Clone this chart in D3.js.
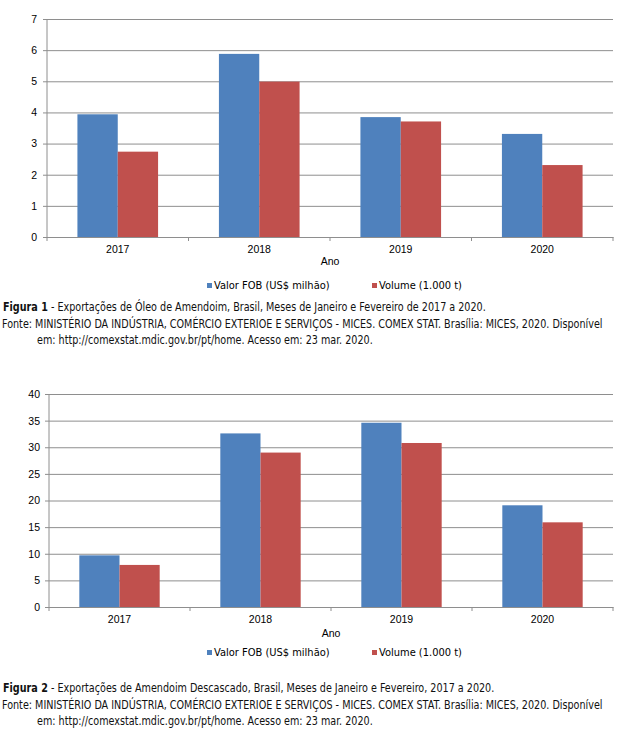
<!DOCTYPE html>
<html>
<head>
<meta charset="utf-8">
<script src="https://cdn.jsdelivr.net/npm/d3@7"></script>
<style>
  body { margin: 0; background: #fff; }
  svg { display: block; }
</style>
</head>
<body>
<svg id="fig" width="631" height="747"></svg>
<script>
// categories and series
var anos = ["2017", "2018", "2019", "2020"];
var series = ["Valor FOB (US$ milhão)", "Volume (1.000 t)"];

// figura 1 - oleo de amendoim
var oleoValor = [3.94, 5.88, 3.85, 3.31];
var oleoVolume = [2.74, 4.99, 3.71, 2.31];
var oleoTicks = [0, 1, 2, 3, 4, 5, 6, 7];

// figura 2 - amendoim descascado
var amendoimValor = [9.7, 32.6, 34.6, 19.1];
var amendoimVolume = [7.9, 29.0, 30.8, 15.9];
var amendoimTicks = [0, 5, 10, 15, 20, 25, 30, 35, 40];

var colors = ["#4f81bd", "#c0504d"];
var fonte = "Fonte: MINISTÉRIO DA INDÚSTRIA, COMÉRCIO EXTERIOE E SERVIÇOS - MICES. COMEX STAT. Brasília: MICES, 2020. Disponível";
var acesso = "em: http://comexstat.mdic.gov.br/pt/home. Acesso em: 23 mar. 2020.";

var svg = d3.select("#fig");
var axisFont = "'Liberation Sans', Arial, sans-serif";
var capFont = "'DejaVu Sans Condensed', 'DejaVu Sans', sans-serif";

function drawChart(c) {
	var g = svg.append("g");
	var x = d3.scaleBand().domain(anos).range([c.left, c.right]);
	var x1 = d3.scaleBand().domain([0, 1])
		.range([x.bandwidth() * 0.215, x.bandwidth() * 0.785]);
	var y = d3.scaleLinear().domain([0, d3.max(c.ticks)]).range([c.bottom, c.top]);

	// gridlines + y labels
	var ya = g.append("g")
		.attr("transform", "translate(" + (c.left - 4) + ",0)")
		.call(d3.axisLeft(y).tickValues(c.ticks).tickFormat(d3.format("d"))
			.tickSizeInner(-(c.right - c.left + 4)).tickSizeOuter(0)
			.tickPadding(c.labelPad));
	ya.select(".domain").remove();
	ya.selectAll("line").attr("stroke", "#8e8e8e");
	ya.selectAll("text").attr("fill", "#000")
		.style("font-family", axisFont).style("font-size", "10.5px");

	// left axis line
	g.append("line")
		.attr("x1", c.left).attr("x2", c.left)
		.attr("y1", y(d3.max(c.ticks))).attr("y2", y(0))
		.attr("stroke", "#8e8e8e");

	// bars
	var rows = anos.map(function(a, i) { return {ano: a, vals: [c.valor[i], c.volume[i]]}; });
	g.selectAll(".grp").data(rows).enter().append("g")
		.attr("transform", function(d) { return "translate(" + x(d.ano) + ",0)"; })
		.selectAll("rect").data(function(d) { return d.vals; }).enter().append("rect")
		.attr("x", function(d, i) { return x1(i); })
		.attr("width", x1.bandwidth())
		.attr("y", function(d) { return y(d); })
		.attr("height", function(d) { return y(0) - y(d); })
		.attr("fill", function(d, i) { return colors[i]; });

	// x axis
	var xa = g.append("g")
		.attr("transform", "translate(0," + y(0) + ")")
		.call(d3.axisBottom(x).tickSize(0).tickPadding(c.xPad));
	xa.select(".domain").attr("stroke", "#8e8e8e");
	xa.selectAll("text").attr("fill", "#000")
		.style("font-family", axisFont).style("font-size", "10.5px");
	var bounds = anos.map(function(a) { return x(a); }).concat([c.right]);
	xa.selectAll(".bnd").data(bounds).enter().append("line")
		.attr("x1", function(d) { return d; }).attr("x2", function(d) { return d; })
		.attr("y1", 0).attr("y2", 4)
		.attr("stroke", "#8e8e8e");

	g.append("text")
		.attr("x", (c.left + c.right) / 2).attr("y", c.anoY)
		.attr("text-anchor", "middle")
		.style("font-family", axisFont).style("font-size", "10.5px")
		.text("Ano");

	// legend
	var lg = g.selectAll(".leg").data(series).enter().append("g")
		.attr("transform", function(d, i) { return "translate(" + [207, 372][i] + "," + c.legY + ")"; });
	lg.append("rect").attr("x", 0).attr("y", -6).attr("width", 5).attr("height", 5)
		.attr("fill", function(d, i) { return colors[i]; });
	lg.append("text").attr("x", 7).attr("y", 0)
		.style("font-family", capFont).style("font-size", "11px")
		.text(function(d) { return d; });

	// caption, narrowed horizontally so the Fonte line fits the page width
	var cap = g.append("g").style("font-family", capFont)
		.style("font-size", "11.5px").attr("fill", "#111");
	var t2 = cap.append("text").text(fonte);
	var k = 601 / t2.node().getComputedTextLength();
	t2.attr("transform", "translate(2," + (c.capY + 17) + ") scale(" + k + ",1)");
	var t1 = cap.append("text")
		.attr("transform", "translate(3," + c.capY + ") scale(" + k + ",1)");
	t1.append("tspan").style("font-weight", "bold").text(c.fig);
	t1.append("tspan").text(c.caption);
	cap.append("text")
		.attr("transform", "translate(37," + (c.capY + 33) + ") scale(" + k + ",1)")
		.text(acesso);
}

drawChart({
	valor: oleoValor, volume: oleoVolume, ticks: oleoTicks,
	left: 47, right: 613, top: 19, bottom: 237, labelPad: 6, xPad: 9,
	anoY: 265, legY: 289, capY: 311,
	fig: "Figura 1",
	caption: " - Exportações de Óleo de Amendoim, Brasil, Meses de Janeiro e Fevereiro de 2017 a 2020."
});

drawChart({
	valor: amendoimValor, volume: amendoimVolume, ticks: amendoimTicks,
	left: 49, right: 613, top: 394, bottom: 607, labelPad: 5, xPad: 9,
	anoY: 637, legY: 656, capY: 692,
	fig: "Figura 2",
	caption: " - Exportações de Amendoim Descascado, Brasil, Meses de Janeiro e Fevereiro, 2017 a 2020."
});
</script>
</body>
</html>
